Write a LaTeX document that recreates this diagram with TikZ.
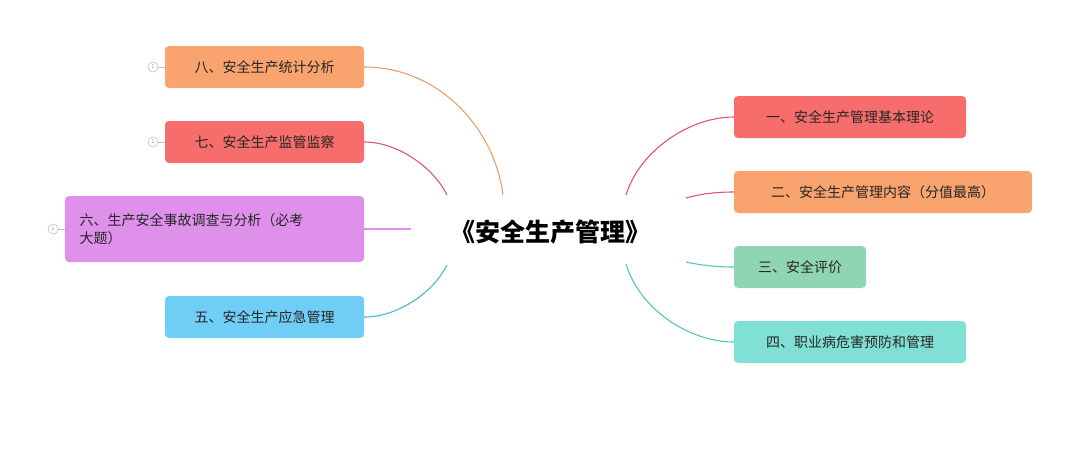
\documentclass[tikz,border=0pt]{standalone}
\usepackage{fontspec}
\setmainfont{Noto Sans CJK SC}
\begin{document}
\begin{tikzpicture}[x=1pt,y=-1pt,
  box/.style={rounded corners=4pt,minimum height=42pt,inner sep=0pt,font=\fontsize{14}{18}\selectfont,text=black!85},
  link/.style={line width=1.1pt},
  badge/.style={circle,draw=gray!50,line width=0.6pt,minimum size=10pt,inner sep=0pt,font=\fontsize{5}{5}\selectfont,text=gray}]
\definecolor{cor}{HTML}{F9A46E}
\definecolor{cre}{HTML}{F76D6B}
\definecolor{cvi}{HTML}{DE90EA}
\definecolor{cbl}{HTML}{70CEF6}
\definecolor{cgr}{HTML}{90D5B3}
\definecolor{cte}{HTML}{80E0D5}
\useasboundingbox (0,0) rectangle (1080,475);
\node[font=\fontsize{25}{30}\selectfont\bfseries] (c) at (550,232) {《安全生产管理》};
% left
\node[box,fill=cor,minimum width=199pt] (n8) at (264.5,67) {八、安全生产统计分析};
\node[box,fill=cre,minimum width=199pt] (n7) at (264.5,142) {七、安全生产监管监察};
\node[box,fill=cvi,minimum width=299pt,minimum height=66pt,align=left,text width=270pt] (n6) at (214.5,229) {六、生产安全事故调查与分析（必考\\大题）};
\node[box,fill=cbl,minimum width=199pt] (n5) at (264.5,317) {五、安全生产应急管理};
\node[badge] (b8) at (153,67) {1};
\node[badge] (b7) at (153,142) {1};
\node[badge] (b6) at (53,229) {1};
\draw[gray!50,line width=0.6pt] (b8) -- (n8.west) (b7) -- (n7.west) (b6) -- (n6.west);
% right
\node[box,fill=cre,minimum width=232pt] (n1) at (850,117) {一、安全生产管理基本理论};
\node[box,fill=cor,minimum width=298pt] (n2) at (883,192) {二、安全生产管理内容（分值最高）};
\node[box,fill=cgr,minimum width=132pt] (n3) at (800,267) {三、安全评价};
\node[box,fill=cte,minimum width=232pt] (n4) at (850,342) {四、职业病危害预防和管理};
\coordinate (e8) at (503,195);
\coordinate (e7) at (447,195);
\coordinate (e6) at (411,229);
\coordinate (e5) at (447,265);
\coordinate (e1) at (626,195);
\coordinate (e2) at (686,198);
\coordinate (e3) at (686,262);
\coordinate (e4) at (626,264);
\draw[link,cor!80!brown] (n8.east) .. controls (440,67) and (495,130) .. (e8);
\draw[link,cre!80!violet] (n7.east) .. controls (400,142) and (435,170) .. (e7);
\draw[link,cvi] (n6.east) -- (e6);
\draw[link,cbl!70!teal] (n5.east) .. controls (400,317) and (435,290) .. (e5);
\draw[link,cre!80!violet] (e1) .. controls (640,150) and (690,117) .. (n1.west);
\draw[link,cre!80!violet] (e2) .. controls (700,194) and (715,192) .. (n2.west);
\draw[link,cte!70!teal] (e3) .. controls (700,265) and (715,267) .. (n3.west);
\draw[link,cte!70!teal] (e4) .. controls (640,310) and (690,342) .. (n4.west);
\end{tikzpicture}
\end{document}
